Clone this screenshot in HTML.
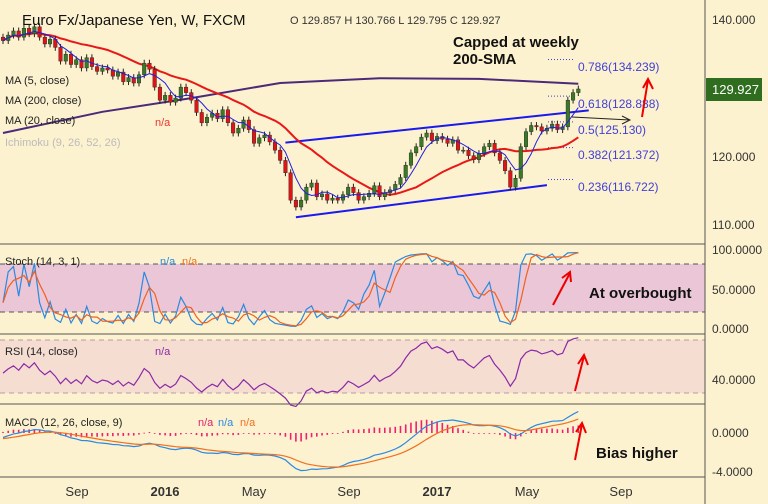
<!DOCTYPE html>
<html><head><meta charset="utf-8"><style>
body{margin:0;background:#fdf2cf;}
svg{display:block;font-family:"Liberation Sans",sans-serif;}
</style></head><body>
<svg id="c" width="768" height="504" viewBox="0 0 768 504">
<rect x="0" y="0" width="768" height="504" fill="#fdf2cf"/>
<rect x="0" y="264" width="705" height="48" fill="#ebc6d6"/>
<line x1="0" y1="264" x2="705" y2="264" stroke="#555" stroke-dasharray="5,4"/>
<line x1="0" y1="312" x2="705" y2="312" stroke="#555" stroke-dasharray="5,4"/>
<rect x="0" y="340" width="705" height="53" fill="#f6ddd2"/>
<line x1="0" y1="340" x2="705" y2="340" stroke="#b9a" stroke-dasharray="5,4"/>
<line x1="0" y1="393" x2="705" y2="393" stroke="#b9a" stroke-dasharray="5,4"/>
<g id="marks"></g>
<g stroke="#555" stroke-width="1">
<line x1="0" y1="244" x2="705" y2="244"/><line x1="0" y1="334" x2="705" y2="334"/><line x1="0" y1="404" x2="705" y2="404"/><line x1="0" y1="477" x2="705" y2="477"/><line x1="705" y1="0" x2="705" y2="504"/>
</g>
<g font-size="12" fill="#333">
<text x="712" y="24">140.000</text><text x="712" y="161">120.000</text><text x="712" y="229">110.000</text>
<text x="712" y="254">100.0000</text><text x="712" y="294">50.0000</text><text x="712" y="333">0.0000</text>
<text x="712" y="384">40.0000</text><text x="712" y="437">0.0000</text><text x="712" y="476">-4.0000</text>
</g>
<rect x="706" y="78" width="56" height="23" fill="#2f6d1f"/>
<text x="712" y="94" font-size="13" fill="#fff">129.927</text>
<g font-size="13" fill="#333">
<text x="77" y="496" text-anchor="middle">Sep</text><text x="165" y="496" text-anchor="middle" font-weight="bold">2016</text><text x="254" y="496" text-anchor="middle">May</text><text x="349" y="496" text-anchor="middle">Sep</text><text x="437" y="496" text-anchor="middle" font-weight="bold">2017</text><text x="527" y="496" text-anchor="middle">May</text><text x="621" y="496" text-anchor="middle">Sep</text>
</g>
<text x="22" y="25" font-size="15" fill="#111">Euro Fx/Japanese Yen, W, FXCM</text>
<text x="290" y="24" font-size="11" fill="#333">O 129.857  H 130.766  L 129.795  C 129.927</text>
<g font-size="11" fill="#222">
<text x="5" y="84">MA (5, close)</text><text x="5" y="104">MA (200, close)</text><text x="5" y="124">MA (20, close)</text>
<text x="5" y="146" fill="#bbb">Ichimoku (9, 26, 52, 26)</text><text x="155" y="126" fill="#e33">n/a</text>
<text x="5" y="265">Stoch (14, 3, 1)</text><text x="160" y="265" fill="#2a8ae0">n/a</text><text x="182" y="265" fill="#f07020">n/a</text>
<text x="5" y="355">RSI (14, close)</text><text x="155" y="355" fill="#8a2aa8">n/a</text>
<text x="5" y="426">MACD (12, 26, close, 9)</text><text x="198" y="426" fill="#e0206a">n/a</text><text x="218" y="426" fill="#2a8ae0">n/a</text><text x="240" y="426" fill="#f07020">n/a</text>
</g>
<g font-size="15" font-weight="bold" fill="#111">
<text x="453" y="47">Capped at weekly</text><text x="453" y="64">200-SMA</text>
<text x="589" y="298">At overbought</text><text x="596" y="458">Bias higher</text>
</g>
<g font-size="12" fill="#4040d8">
<text x="578" y="71">0.786(134.239)</text><text x="578" y="108">0.618(128.888)</text><text x="578" y="134">0.5(125.130)</text><text x="578" y="159">0.382(121.372)</text><text x="578" y="191">0.236(116.722)</text>
</g>
<g stroke="#e00" stroke-width="2" fill="none">
<path d="M642 117 L648 80 M643 88 L648 79 L653 89"/>
<path d="M553 305 L570 273 M562 278 L570 272 L571 282"/>
<path d="M575 391 L584 356 M578 364 L584 355 L588 365"/>
<path d="M575 460 L582 424 M576 432 L582 423 L586 433"/>
</g>
<path d="M572 117 L630 120 M622 116 L630 120 L622 124" stroke="#222" fill="none"/>
</svg>
<script>
const closes=[137.0,137.8,138.4,137.5,138.8,138.0,139.0,137.5,136.5,137.2,
136.0,134.0,135.0,133.5,134.2,133.0,134.5,133.2,132.5,133.0,
132.7,131.8,132.4,131.0,131.6,130.8,132.0,133.7,132.8,130.2,
128.3,129.0,128.0,128.6,130.2,129.4,128.3,126.5,125.0,125.8,
126.4,125.6,126.9,125.0,123.5,124.2,125.4,124.0,122.0,122.8,
123.2,122.2,121.0,119.5,117.7,113.7,112.7,113.7,115.6,116.2,
114.2,114.6,113.7,114.0,113.7,114.5,115.6,114.8,113.7,114.2,
114.7,115.8,114.2,114.8,115.2,116.0,117.0,118.8,120.6,121.5,
122.9,123.5,122.4,123.0,122.6,122.0,122.5,121.0,121.0,120.2,
119.6,120.5,121.5,122.0,120.6,119.5,118.0,115.6,116.9,121.5,
123.7,124.6,124.4,123.8,124.2,124.8,124.0,124.4,128.3,129.4,129.93];
const ma200Idx=[0,19,36,53,72,91,110];
const ma200Vals=[123.5,126.6,128.6,130.8,131.5,131.4,130.7];
const fibLevels=[134.239,128.888,125.130,121.372,116.722];
const chanUpper=[[54,122.1],[112,126.8]];
const chanLower=[[56,111.2],[104,115.9]];

const NS="http://www.w3.org/2000/svg";
const g=document.getElementById('marks');
const X=i=>3+i*5.23;
const Y=p=>20+(140-p)*6.85;
const YS=v=>329-v*0.79;
const YR=v=>393-(v-30)*1.325;
const YM=v=>433-v*9.75;
function el(t,a){const e=document.createElementNS(NS,t);for(const k in a)e.setAttribute(k,a[k]);g.appendChild(e);return e;}
function poly(pts,color,w,name){const e=el('polyline',{points:pts.map(p=>p[0].toFixed(1)+','+p[1].toFixed(1)).join(' '),fill:'none',stroke:color,'stroke-width':w});

return e;}
const n=closes.length;
const opens=closes.map((c,i)=>i?closes[i-1]:c+0.5);
const highs=closes.map((c,i)=>Math.max(c,opens[i])+0.5);
const lows=closes.map((c,i)=>Math.min(c,opens[i])-0.5);
// channel lines
let e=el('line',{x1:X(chanUpper[0][0]),y1:Y(chanUpper[0][1]),x2:X(chanUpper[1][0]),y2:Y(chanUpper[1][1]),stroke:'#1a1aee','stroke-width':2});


e=el('line',{x1:X(chanLower[0][0]),y1:Y(chanLower[0][1]),x2:X(chanLower[1][0]),y2:Y(chanLower[1][1]),stroke:'#1a1aee','stroke-width':2});


fibLevels.forEach(f=>{const l=el('line',{x1:548,x2:574,y1:Y(f),y2:Y(f),stroke:'#4040d8','stroke-dasharray':'1,2'});

});
// MA200
poly(ma200Idx.map((k,j)=>[X(k),Y(ma200Vals[j])]),'#4b2a7a',2,'ma200-line');
// MA20 / MA5
const sma=(a,p)=>a.map((v,i)=>{const s=a.slice(Math.max(0,i-p+1),i+1);return s.reduce((x,y)=>x+y,0)/s.length;});
const ma20=sma(closes,20),ma5=sma(closes,5);
poly(ma20.map((v,i)=>[X(i),Y(v)]),'#e81818',2,'ma20-line');
// candles
closes.forEach((c,i)=>{const o=opens[i];const up=c>=o;const col=up?'#3a7a26':'#e01414';
const w=el('line',{x1:X(i),x2:X(i),y1:Y(highs[i]),y2:Y(lows[i]),stroke:'#222','stroke-width':1});


const b=el('rect',{x:X(i)-1.8,y:Y(Math.max(o,c)),width:3.6,height:Math.max(1,Math.abs(Y(o)-Y(c))),fill:col,stroke:'#222','stroke-width':0.4});

});
poly(ma5.map((v,i)=>[X(i),Y(v)]),'#2020e0',1,'ma5-line');
// Stochastic
const K=closes.map((c,i)=>{const s=Math.max(0,i-13);const hh=Math.max(...highs.slice(s,i+1)),ll=Math.min(...lows.slice(s,i+1));return hh>ll?100*(c-ll)/(hh-ll):50;});
const D=sma(K,3);
poly(K.map((v,i)=>[X(i),YS(v)]),'#2a8ae0',1.2,'stoch-k-line');
poly(D.map((v,i)=>[X(i),YS(v)]),'#f06020',1.2,'stoch-d-line');
// RSI
let ag=0.45,al=0.55;const rsi=closes.map((c,i)=>{if(i){const d=c-closes[i-1];ag=(ag*13+Math.max(d,0))/14;al=(al*13+Math.max(-d,0))/14;}return 100-100/(1+ag/al);});
poly(rsi.map((v,i)=>[X(i),YR(v)]),'#8a2aa8',1.2,'rsi-line');
// MACD
const ema=(a,p,s0)=>{const k=2/(p+1);let v=s0;return a.map(x=>v=x*k+v*(1-k));};
const e12=ema(closes,12,closes[0]-1.2),e26=ema(closes,26,closes[0]-0.6);
const macd=e12.map((v,i)=>v-e26[i]);const sig=ema(macd,9,-0.6);
macd.forEach((m,i)=>{const h=m-sig[i];const r=el('rect',{x:X(i)-0.8,y:Math.min(YM(0),YM(h)),width:1.6,height:Math.max(0.8,Math.abs(YM(h)-YM(0))),fill:'#f02070'});

});
poly(macd.map((v,i)=>[X(i),YM(v)]),'#2a8ae0',1.2,'macd-line');
poly(sig.map((v,i)=>[X(i),YM(v)]),'#f07020',1.2,'macd-signal-line');
</script>
</body></html>
